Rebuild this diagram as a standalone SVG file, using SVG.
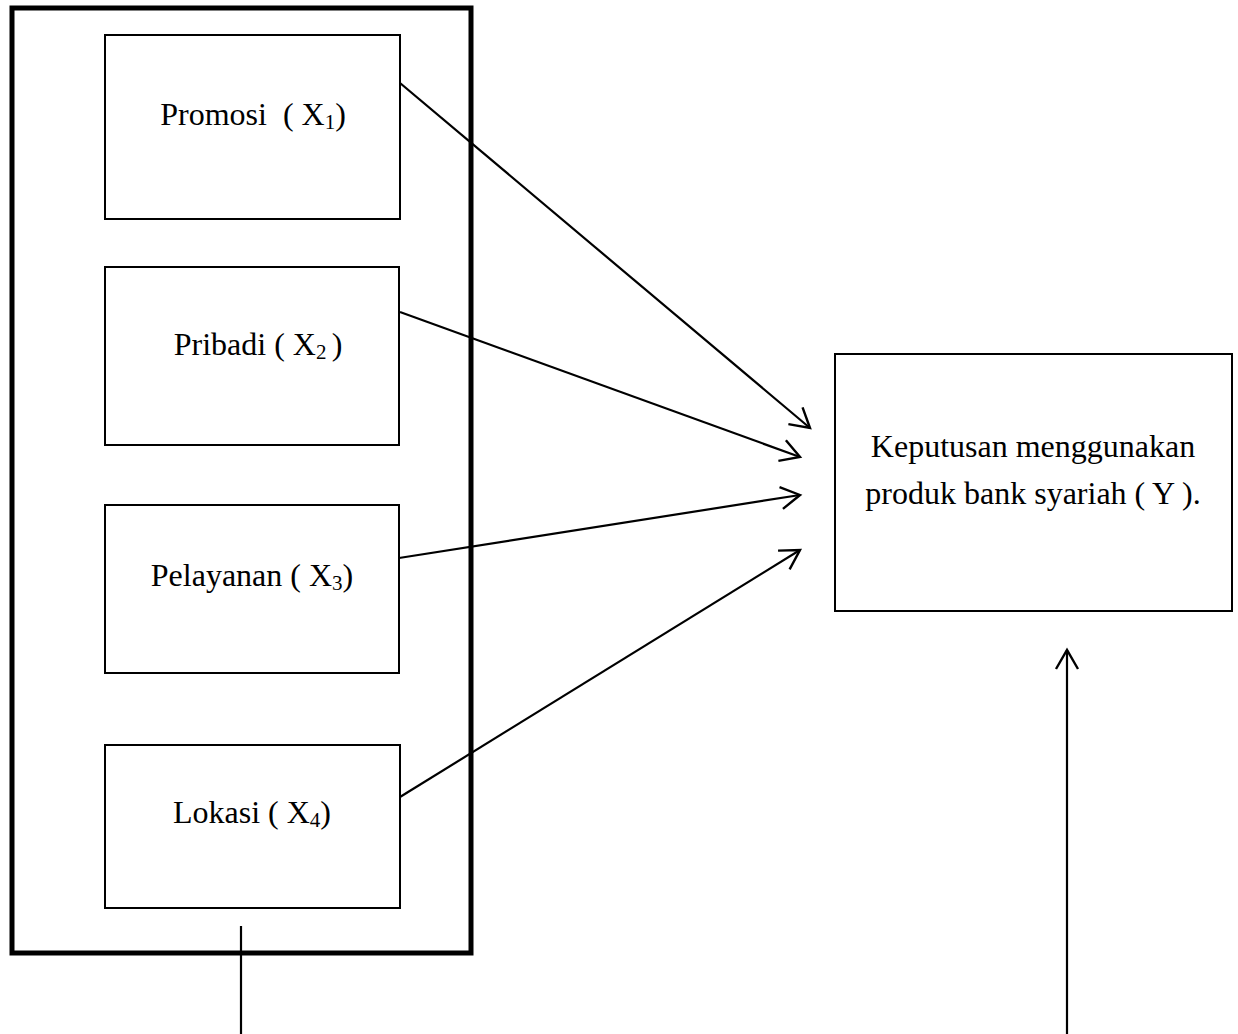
<svg xmlns="http://www.w3.org/2000/svg" width="1238" height="1034" viewBox="0 0 1238 1034">
<style>
.box{fill:#fff;stroke:#000;stroke-width:2}
.outer{fill:none;stroke:#000;stroke-width:5}
.lbl{font-family:"Liberation Serif","Times New Roman",serif;font-size:32px;fill:#000;text-anchor:middle;white-space:pre}
.sub{font-size:21px}
.conn{stroke:#000;stroke-width:2.2;fill:none}
</style>
<defs>
<marker id="arr" markerUnits="userSpaceOnUse" markerWidth="24" markerHeight="26" viewBox="0 0 24 26" refX="21" refY="13" orient="auto">
<path d="M2,2 L21,13 L2,24" fill="none" stroke="#000" stroke-width="2.4"/>
</marker>
</defs>
<rect id="group-outer" class="outer" x="12" y="8" width="459" height="945"/>
<g id="promosi"><rect class="box" x="105" y="35" width="295" height="184"/><text class="lbl" x="253" y="125">Promosi  ( X<tspan class="sub" dy="4">1</tspan><tspan dy="-4">)</tspan></text></g>
<g id="pribadi"><rect class="box" x="105" y="267" width="294" height="178"/><text class="lbl" x="258" y="355">Pribadi ( X<tspan class="sub" dy="4">2 </tspan><tspan dy="-4">)</tspan></text></g>
<g id="pelayanan"><rect class="box" x="105" y="505" width="294" height="168"/><text class="lbl" x="252" y="586">Pelayanan ( X<tspan class="sub" dy="4">3</tspan><tspan dy="-4">)</tspan></text></g>
<g id="lokasi"><rect class="box" x="105" y="745" width="295" height="163"/><text class="lbl" x="252" y="823">Lokasi ( X<tspan class="sub" dy="4">4</tspan><tspan dy="-4">)</tspan></text></g>
<g id="keputusan"><rect class="box" x="835" y="354" width="397" height="257"/><text class="lbl" x="1033" y="457">Keputusan menggunakan</text><text class="lbl" x="1033" y="504">produk bank syariah ( Y ).</text></g>
<g id="connectors">
<line class="conn" x1="400" y1="83" x2="810" y2="428" marker-end="url(#arr)"/>
<line class="conn" x1="400" y1="312" x2="800" y2="457" marker-end="url(#arr)"/>
<line class="conn" x1="399" y1="558" x2="800" y2="495" marker-end="url(#arr)"/>
<line class="conn" x1="400" y1="797" x2="800" y2="550" marker-end="url(#arr)"/>
<line class="conn" x1="241" y1="926" x2="241" y2="1034"/>
<line class="conn" x1="1067" y1="1034" x2="1067" y2="650" marker-end="url(#arr)"/>
</g>
</svg>
